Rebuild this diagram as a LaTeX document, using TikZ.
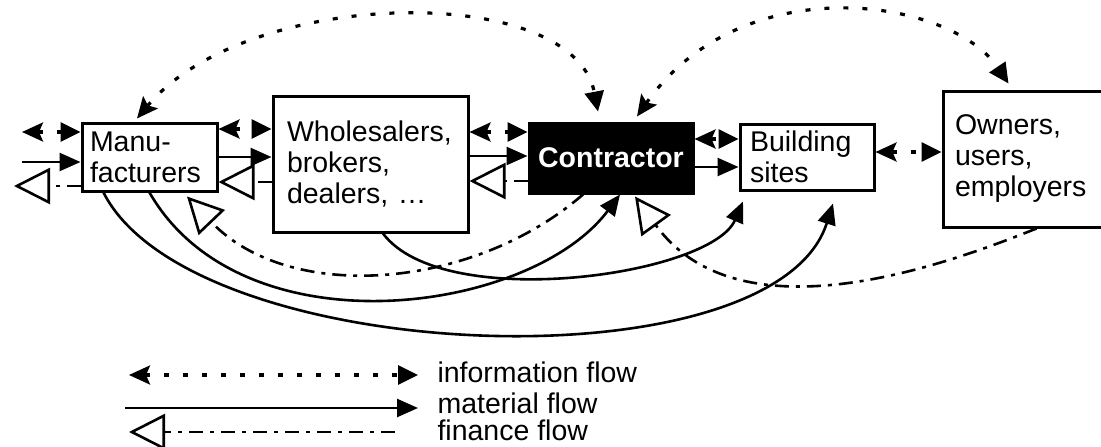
\documentclass[tikz,border=0pt]{standalone}
\usepackage{fontspec}
\setmainfont{Liberation Sans}
\usetikzlibrary{arrows.meta,calc}

\begin{document}
\begin{tikzpicture}[x=1pt,y=-1pt,
		font=\fontsize{28.5}{31}\selectfont,
		box/.style={draw,line width=3pt,align=left,inner ysep=0pt},
		info/.style={line width=3.2pt,dash pattern=on 5pt off 14pt,{Stealth[length=21pt,width=19pt,inset=4pt]}-{Triangle[length=20pt,width=19pt]}},
		material/.style={line width=2.6pt,-{Triangle[length=21pt,width=18pt]}},
		finance/.style={line width=2.6pt,dash pattern=on 14pt off 7pt on 4pt off 7pt,-{Triangle[length=36pt,width=36pt,fill=white]}}]
		\useasboundingbox (0,0) rectangle (1101,447);
		
		\node[box,text width=119pt,inner xsep=8pt,minimum height=68pt] (manu) at (149.5,157) {Manu-\\facturers};
		\node[box,text width=167pt,inner xsep=14pt,minimum height=136pt] (whole) at (370.5,164) {Wholesalers,\\brokers,\\dealers, \dots};
		\node[box,fill=black,text=white,font=\fontsize{28.5}{31}\selectfont\bfseries,minimum width=164pt,minimum height=70pt,inner xsep=0pt] (contr) at (611,158) {Contractor};
		\node[box,text width=114pt,inner xsep=10pt,minimum height=66pt] (build) at (807,157) {Building\\sites};
		\node[box,text width=136pt,inner xsep=12pt,minimum height=136pt] (owners) at (1023,159) {Owners,\\users,\\employers};
		
		% flows coming in from the left
		\coordinate (infoin) at (22,132);
		\coordinate (matin) at (22,162);
		\coordinate (finout) at (14,186);
		\draw[info] (infoin) -- (infoin -| manu.west);
		\draw[material] (matin) -- (matin -| manu.west);
		\draw[finance] (finout -| manu.west) -- (finout);
		
		% straight flows between neighbours
		\draw[info] ([yshift=28pt]manu.east) -- ([yshift=28pt]manu.east -| whole.west);
		\draw[material] (manu.east) -- (manu.east -| whole.west);
		\draw[finance] ([yshift=-25pt]manu.east -| whole.west) -- ([yshift=-25pt]manu.east);
		\draw[info] ([yshift=26pt]contr.west -| whole.east) -- ([yshift=26pt]contr.west);
		\draw[material] ([yshift=2pt]contr.west -| whole.east) -- ([yshift=2pt]contr.west);
		\draw[finance] ([yshift=-23pt]contr.west) -- ([yshift=-23pt]contr.west -| whole.east);
		\draw[info] ([yshift=19pt]contr.east) -- ([yshift=19pt]contr.east -| build.west);
		\draw[material] ([yshift=-9pt]contr.east) -- ([yshift=-9pt]contr.east -| build.west);
		\draw[info] ([yshift=5pt]build.east) -- ([yshift=5pt]build.east -| owners.west);
		
		% arcs above
		\draw[info] ([xshift=-12.5pt,yshift=3pt]manu.north) .. controls +(110,-132) and +(-25,-130) .. ([xshift=-13pt,yshift=10pt]contr.north);
		\draw[info] ([xshift=26pt,yshift=5pt]contr.north) .. controls +(105,-150) and +(-58,-86) .. ([xshift=67pt,yshift=6pt]owners.north west);
		
		% arcs below
		\draw[material] ([xshift=23pt]manu.south west) .. controls +(88,174) and +(-59,186) .. ([xshift=26pt,yshift=-12pt]build.south);
		\draw[material] (manu.south) .. controls +(92.5,161) and +(-90,120) .. ([xshift=9pt]contr.south);
		\draw[material] ([xshift=12.5pt]whole.south) .. controls +(60,80) and +(-32,74) .. ([xshift=-64pt,yshift=-10pt]build.south);
		\draw[finance] ([xshift=-28pt]contr.south) .. controls +(-111,96) and +(102,107) .. ([xshift=37.5pt,yshift=-4pt]manu.south);
		\draw[finance] ([xshift=95pt]owners.south west) .. controls +(-83,33) and +(106,146) .. ([xshift=24pt,yshift=-2pt]contr.south);
		
		% key
		\node[anchor=base west] (linfo) at (434,382) {information flow};
		\node[anchor=base west] (lmat) at (434,413) {material flow};
		\node[anchor=base west] (lfin) at (434,440) {finance flow};
		\coordinate (keyinfo) at (129,375);
		\coordinate (keymat) at (125,408);
		\coordinate (keyfin) at (129,432);
		\draw[info] (keyinfo) -- ([xshift=-16pt]keyinfo -| linfo.west);
		\draw[material] (keymat) -- ([xshift=-16pt]keymat -| lmat.west);
		\draw[finance] ([xshift=-39pt]keyfin -| lfin.west) -- (keyfin);
	\end{tikzpicture}
\end{document}
